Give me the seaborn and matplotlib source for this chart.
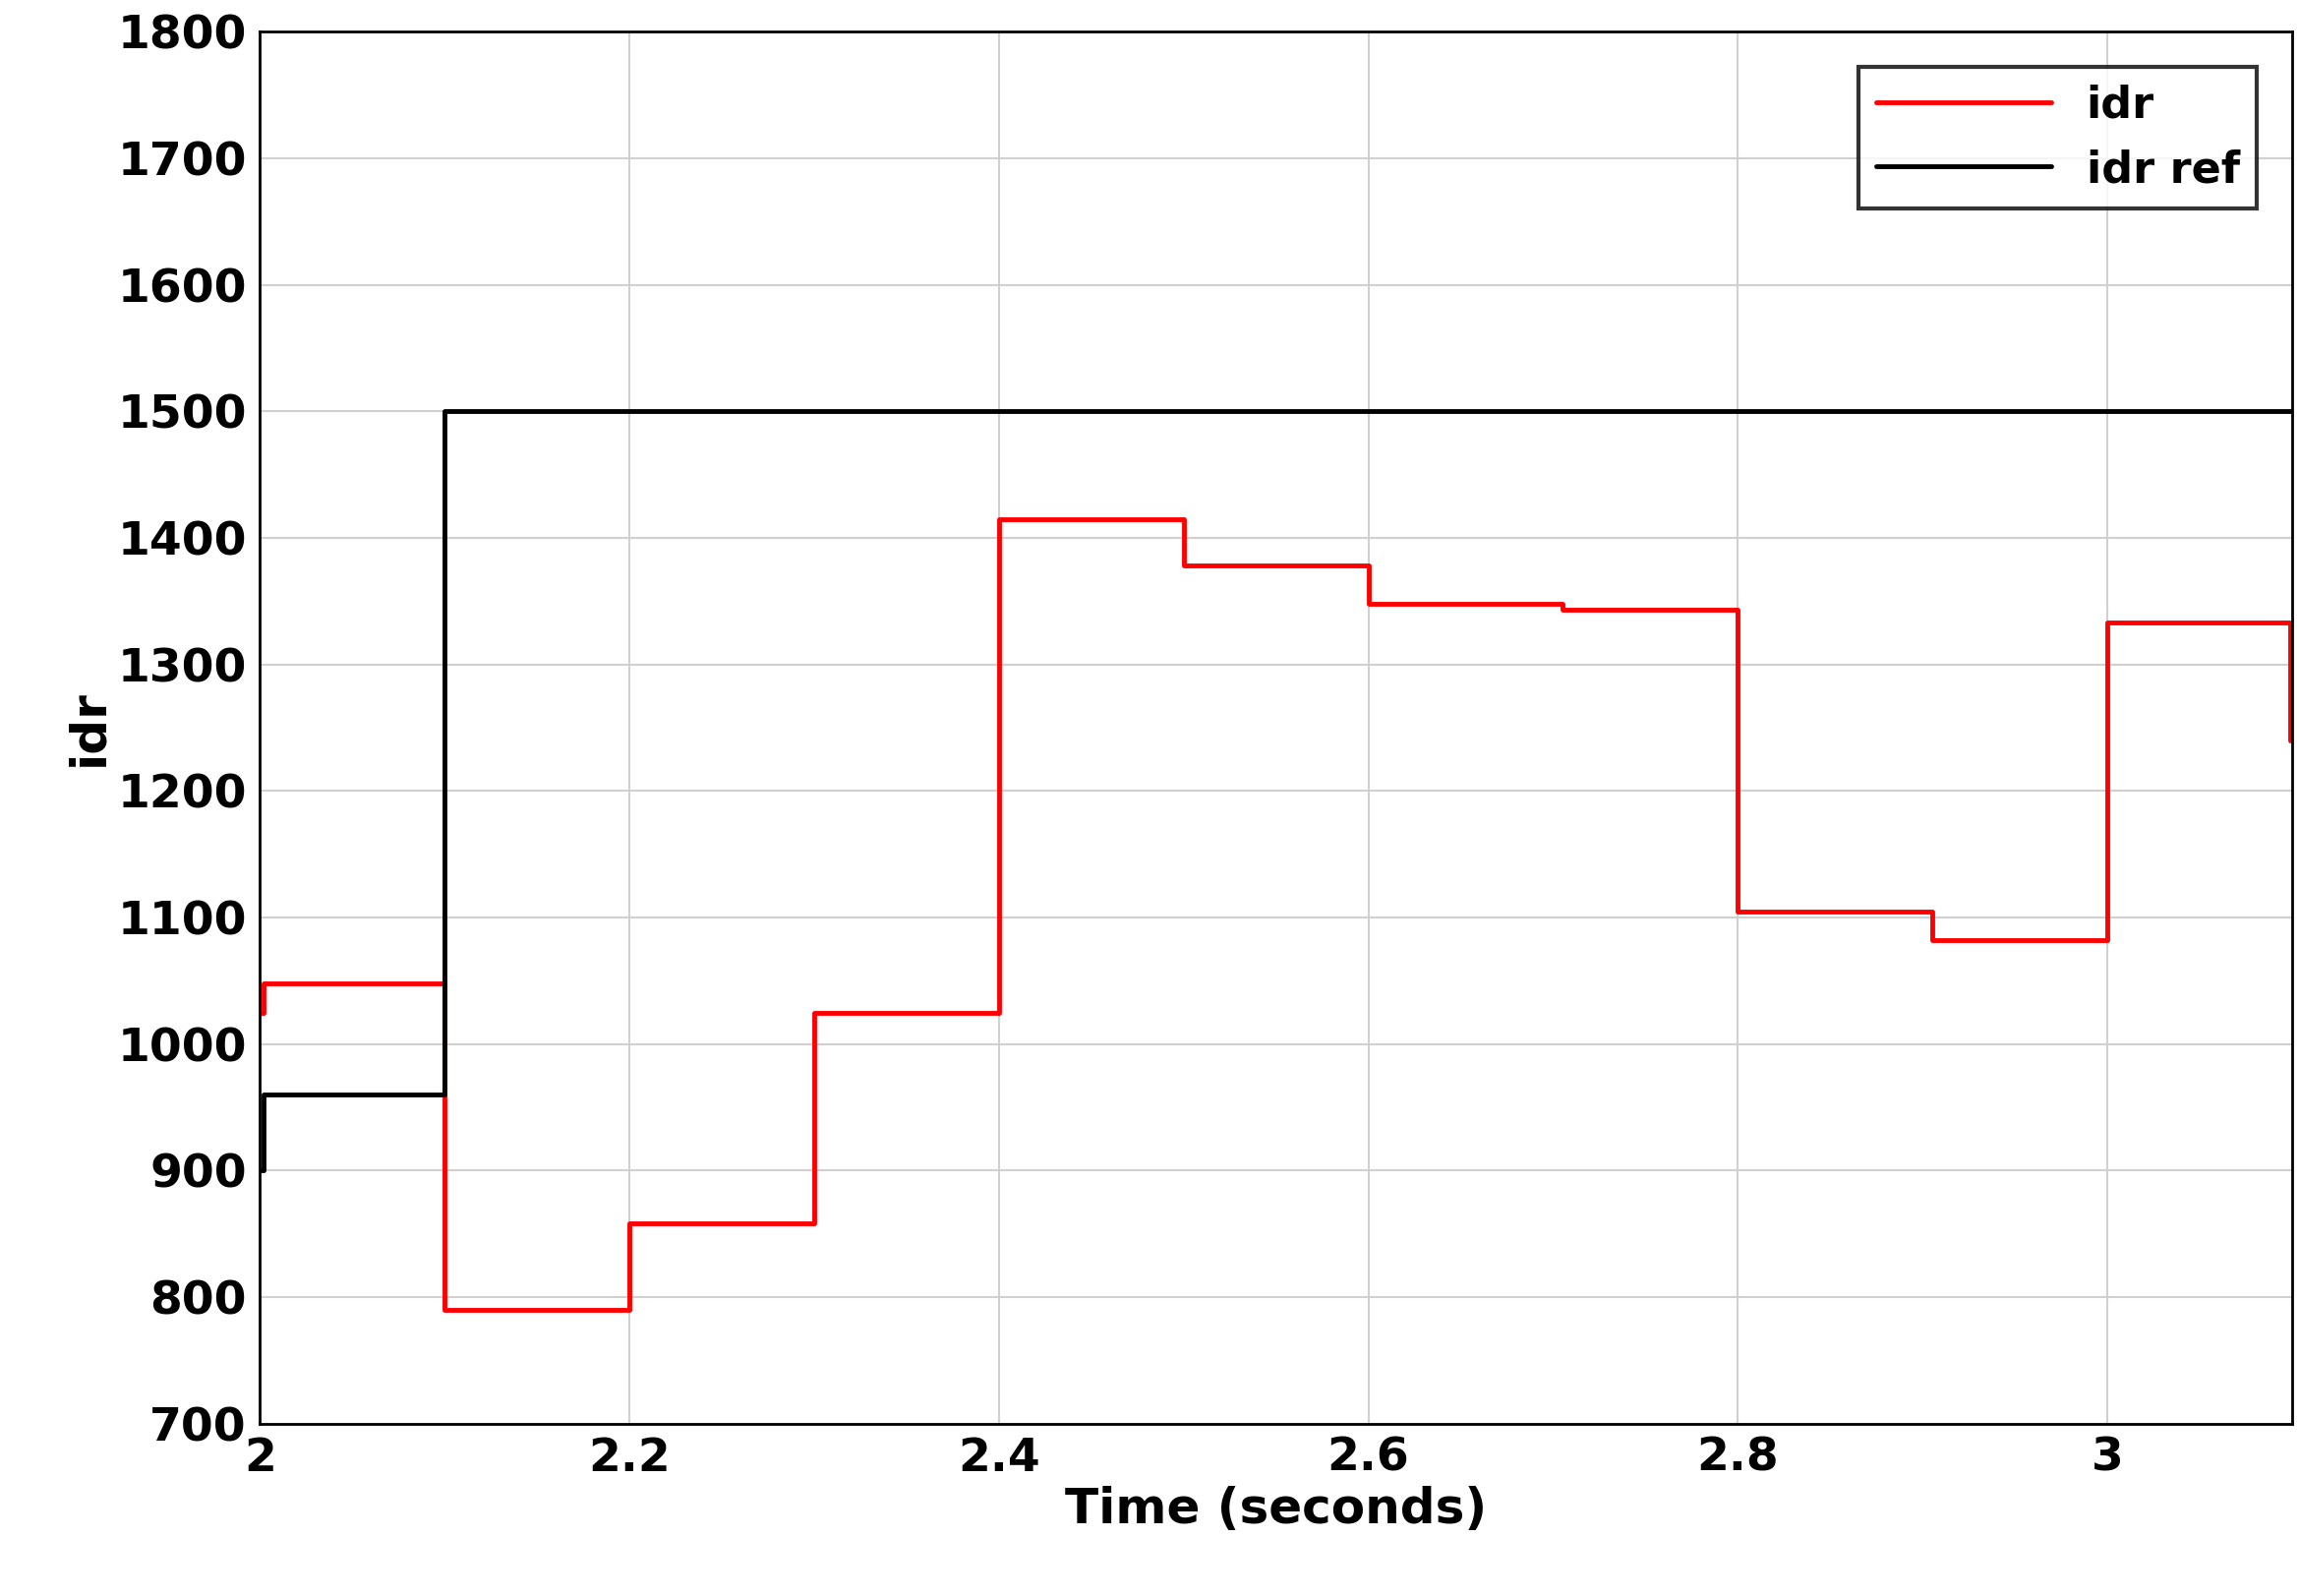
import matplotlib
matplotlib.use("Agg")
import matplotlib.pyplot as plt
import seaborn as sns
import pandas as pd

t_idr = [2.0, 2.002, 2.1, 2.2, 2.3, 2.4, 2.5, 2.6, 2.7, 2.705, 2.8, 2.9, 2.905, 3.0, 3.099, 3.1]
v_idr = [1025, 1048, 790, 858, 1025, 1415, 1378, 1348, 1348, 1343, 1105, 1105, 1082, 1333, 1240, 1240]
t_ref = [2.0, 2.002, 2.1, 3.1]
v_ref = [900, 960, 1500, 1500]

sns.set_theme(style="whitegrid")
plt.rcParams['font.family'] = ['DejaVu Sans']
plt.rcParams['text.color'] = 'black'
plt.rcParams['xtick.color'] = 'black'
plt.rcParams['ytick.color'] = 'black'
plt.rcParams['axes.labelcolor'] = 'black'
fig = plt.figure(figsize=(23.38, 16.23), dpi=100)
ax = fig.add_axes([0.113, 0.108, 0.884, 0.872])
df1 = pd.DataFrame({"t": t_idr, "v": v_idr})
df2 = pd.DataFrame({"t": t_ref, "v": v_ref})
sns.lineplot(data=df1, x="t", y="v", ax=ax, color="red", lw=3.5, drawstyle="steps-post", label="idr")
sns.lineplot(data=df2, x="t", y="v", ax=ax, color="black", lw=3.5, drawstyle="steps-post", label="idr ref")
ax.set_xlim(2, 3.1)
ax.set_ylim(700, 1800)
ax.set_xticks([2, 2.2, 2.4, 2.6, 2.8, 3])
ax.set_xticklabels(["2", "2.2", "2.4", "2.6", "2.8", "3"])
ax.set_yticks(range(700, 1801, 100))
ax.tick_params(labelsize=34, width=2)
for l in ax.get_xticklabels() + ax.get_yticklabels():
    l.set_fontweight("bold")
ax.set_xlabel("Time (seconds)", fontsize=36, fontweight="bold")
ax.set_ylabel("idr", fontsize=36, fontweight="bold")
ax.set_facecolor("white")
ax.grid(True, color="#d0d0d0", lw=1.5)
for s in ax.spines.values():
    s.set_color("black"); s.set_linewidth(2); s.set_visible(True)
leg = ax.legend(loc="upper right", frameon=True, fancybox=False, edgecolor="black",
                prop={"weight": "bold", "size": 32}, handlelength=4, borderaxespad=0.8)
leg.get_frame().set_linewidth(3)
fig.savefig("out.png", dpi=100, facecolor="white")
